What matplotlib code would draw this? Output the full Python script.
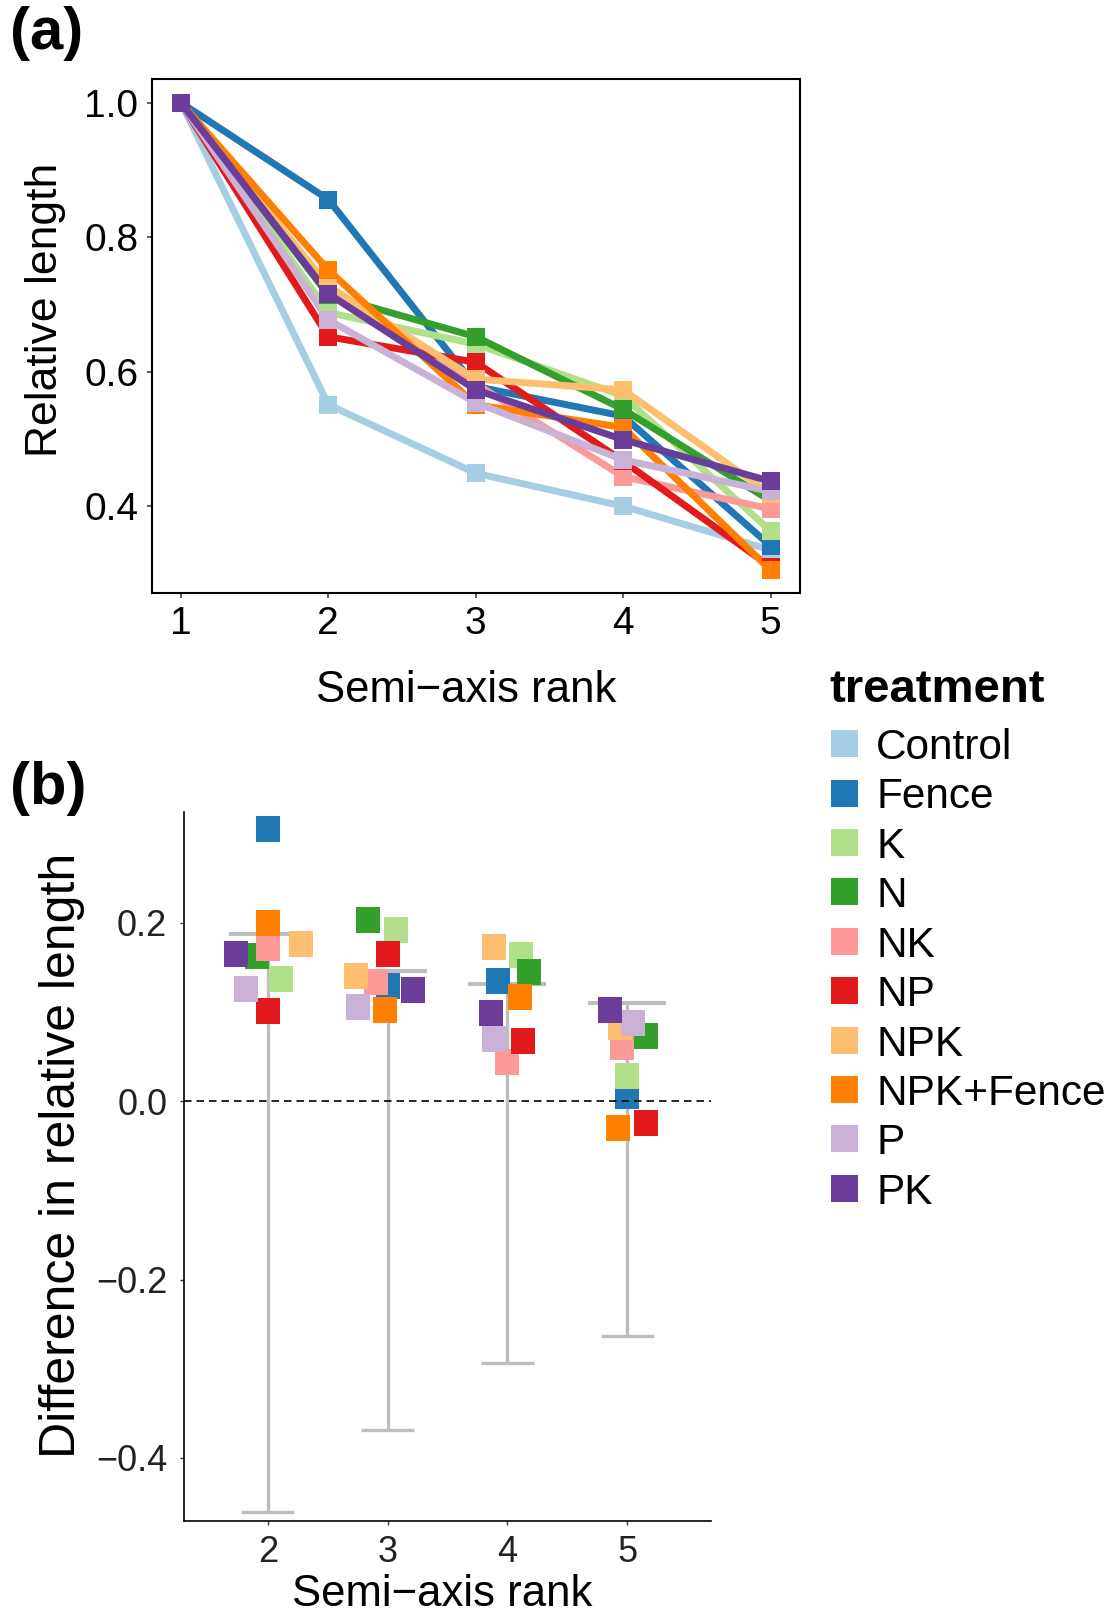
import matplotlib
matplotlib.use('Agg')
import matplotlib.pyplot as plt
from matplotlib.patches import Rectangle

plt.rcParams['font.family'] = ['Liberation Sans', 'DejaVu Sans']

# treatments and their colours (Paired palette)
treatments = ['Control', 'Fence', 'K', 'N', 'NK', 'NP', 'NPK', 'NPK+Fence', 'P', 'PK']
colors = ['#A6CEE3', '#1F78B4', '#B2DF8A', '#33A02C', '#FB9A99',
          '#E31A1C', '#FDBF6F', '#FF7F00', '#CAB2D6', '#6A3D9A']

rank = [1, 2, 3, 4, 5]

# relative semi-axis length by rank
control = [1.0, 0.551, 0.449, 0.400, 0.335]
fence = [1.0, 0.856, 0.578, 0.534, 0.341]
k = [1.0, 0.688, 0.641, 0.564, 0.363]
n = [1.0, 0.714, 0.652, 0.544, 0.408]
nk = [1.0, 0.722, 0.582, 0.444, 0.396]
np_ = [1.0, 0.652, 0.614, 0.467, 0.310]
npk = [1.0, 0.727, 0.589, 0.573, 0.418]
npk_fence = [1.0, 0.751, 0.551, 0.517, 0.305]
p = [1.0, 0.677, 0.554, 0.469, 0.422]
pk = [1.0, 0.716, 0.573, 0.499, 0.437]
lengths = [control, fence, k, n, nk, np_, npk, npk_fence, p, pk]

# horizontal jitter used in panel b (ranks 2-5), control not shown there
jitter = {
    'Fence': [0.0, 0.0, -0.08, 0.0],
    'K': [0.11, 0.07, 0.11, 0.0],
    'N': [-0.09, -0.165, 0.18, 0.16],
    'NK': [0.0, -0.095, 0.0, -0.045],
    'NP': [0.0, 0.0, 0.13, 0.16],
    'NPK': [0.28, -0.26, -0.115, -0.06],
    'NPK+Fence': [0.0, -0.02, 0.105, -0.075],
    'P': [-0.18, -0.25, -0.11, 0.05],
    'PK': [-0.265, 0.215, -0.135, -0.14],
}

# grey interval per rank in panel b
rank_b = [2, 3, 4, 5]
bar_lo = [-0.460, -0.369, -0.294, -0.263]
bar_hi = [0.187, 0.146, 0.1315, 0.110]

W, H = 1114, 1618
fig = plt.figure(figsize=(W / 100, H / 100), dpi=100)

# ---------- (a) ----------
ax1 = fig.add_axes([151.5 / W, 1 - 593.3 / H, (800 - 151.5) / W, (593.3 - 79.3) / H])
for vals, c in zip(lengths, colors):
    ax1.plot(rank, vals, color=c, lw=5.0, solid_capstyle='butt', zorder=2)
for vals, c in zip(lengths, colors):
    ax1.plot(rank, vals, ls='none', marker='s', ms=13.5, mew=0, color=c, zorder=3)

ax1.set_xlim(0.8, 5.2)
ax1.set_ylim(0.2705, 1.0348)
ax1.set_xticks(rank)
ax1.set_yticks([0.4, 0.6, 0.8, 1.0])
ax1.set_yticklabels(['0.4', '0.6', '0.8', '1.0'])
ax1.tick_params(labelsize=28, length=3.5, width=1.1, color='#333333', labelcolor='black')
ax1.tick_params(axis='x', pad=6)
ax1.tick_params(axis='y', pad=6)
for s in ax1.spines.values():
    s.set_linewidth(1.5)
ax1.set_xlabel('Semi\u2212axis rank', fontsize=31.5)
ax1.set_ylabel('Relative length', fontsize=32)
ax1.xaxis.set_label_coords(0.485, -(670 - 593.3) / 514)
ax1.yaxis.set_label_coords((46 - 151.5) / 648.5, 0.552)
ax1.yaxis.label.set_va('center')

# ---------- (b) ----------
ax2 = fig.add_axes([184 / W, 1 - 1521 / H, (711 - 184) / W, (1521 - 811.5) / H])
ax2.vlines(rank_b, bar_lo, bar_hi, color='#BEBEBE', lw=2.4, zorder=1)
ax2.hlines(bar_lo, [r - 0.22 for r in rank_b], [r + 0.22 for r in rank_b],
           color='#BEBEBE', lw=2.4, zorder=1)
ax2.hlines(bar_hi, [r - 0.325 for r in rank_b], [r + 0.325 for r in rank_b],
           color='#BEBEBE', lw=3.0, zorder=1)

rect = [(-0.9, -1), (0.9, -1), (0.9, 1), (-0.9, 1)]
for name, vals, c in zip(treatments, lengths, colors):
    if name == 'Control':
        continue
    xs = [r + j for r, j in zip(rank_b, jitter[name])]
    diffs = [v - cv for v, cv in zip(vals[1:], control[1:])]
    ax2.plot(xs, diffs, ls='none', marker=rect, ms=19.2, mew=0, color=c, zorder=2)

ax2.axhline(0, color='black', lw=1.2, ls=(0, (4.5, 3)), zorder=4)
ax2.set_xlim(1.30, 5.70)
ax2.set_ylim(-0.4706, 0.3244)
ax2.set_xticks(rank_b)
ax2.set_yticks([-0.4, -0.2, 0.0, 0.2])
ax2.set_yticklabels(['\u22120.4', '\u22120.2', '0.0', '0.2'])
ax2.spines['top'].set_visible(False)
ax2.spines['right'].set_visible(False)
ax2.spines['left'].set_linewidth(1.2)
ax2.spines['bottom'].set_linewidth(1.2)
ax2.tick_params(labelsize=26, length=3, width=1.0, color='#333333', labelcolor='#222222')
ax2.tick_params(axis='x', pad=7)
ax2.tick_params(axis='y', pad=9)
ax2.set_xlabel('Semi\u2212axis rank', fontsize=31.5)
ax2.set_ylabel('Difference in relative length', fontsize=36)
ax2.xaxis.set_label_coords(0.49, -(1574 - 1521) / 709.5)
ax2.yaxis.set_label_coords((62 - 184) / 527, 0.516)
ax2.yaxis.label.set_va('center')

# panel tags
fig.text(10 / W, 1 - 49 / H, '(a)', fontsize=43, fontweight='bold', va='baseline')
fig.text(10 / W, 1 - 804 / H, '(b)', fontsize=43, fontweight='bold', va='baseline')

# legend
fig.text(829 / W, 1 - 701.8 / H, 'treatment', fontsize=34, fontweight='bold', va='baseline')
for i, (name, c) in enumerate(zip(treatments, colors)):
    yc = 743.6 + 49.4 * i
    fig.add_artist(Rectangle((830.7 / W, 1 - (yc + 13.5) / H), 27.5 / W, 27 / H,
                             transform=fig.transFigure, color=c, lw=0))
    fig.text(876 / W, 1 - (yc + 15.5) / H, name, fontsize=30.5, va='baseline')

fig.savefig('out.png', dpi=100)
